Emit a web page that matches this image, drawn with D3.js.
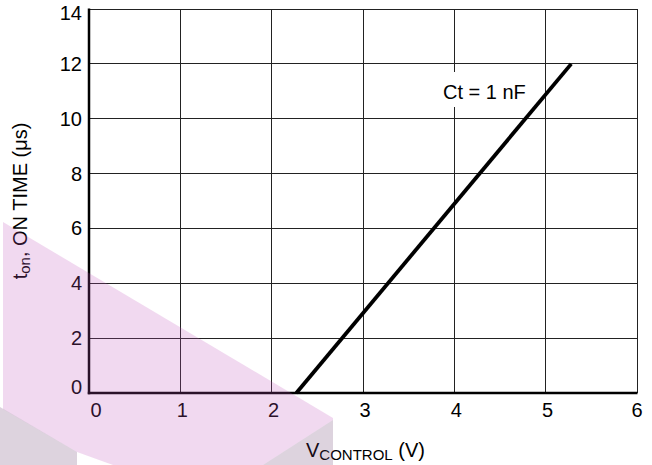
<!DOCTYPE html>
<html>
<head>
<meta charset="utf-8">
<script src="https://cdn.jsdelivr.net/npm/d3@7"></script>
<style>
  html, body { margin: 0; padding: 0; background: #fff; }
  svg { display: block; font-family: "Liberation Sans", Arial, Helvetica, sans-serif; }
</style>
</head>
<body>
<svg id="chart" width="652" height="465"></svg>
<script>
// ---- data ----
const xTicks = [0, 1, 2, 3, 4, 5, 6];
const yTicks = [0, 2, 4, 6, 8, 10, 12, 14];
const vControl = [2.27, 5.28];      // V
const onTime = [0, 12];             // µs
const curveLabel = "Ct = 1 nF";
const xTitleMain = "V", xTitleSub = "CONTROL", xTitleUnit = " (V)";
const yTitleMain = "t", yTitleSub = "on", yTitleRest = ", ON TIME (\u03BCs)";

// ---- layout ----
const svg = d3.select("#chart");
const L = 89, T = 9, R = 637, B = 393;
const x = d3.scaleLinear().domain([0, 6]).range([L, R]);
const y = d3.scaleLinear().domain([0, 14]).range([B, T]);

// grid
const g = svg.append("g");
g.selectAll("line.vx").data(xTicks).join("line")
  .attr("x1", d => x(d)).attr("x2", d => x(d)).attr("y1", T).attr("y2", B)
  .attr("stroke", "#222").attr("stroke-width", 1).attr("shape-rendering", "crispEdges");
g.selectAll("line.hy").data(yTicks).join("line")
  .attr("x1", L).attr("x2", R).attr("y1", d => y(d)).attr("y2", d => y(d))
  .attr("stroke", "#222").attr("stroke-width", 1).attr("shape-rendering", "crispEdges");

// axes (thick left & bottom)
g.append("line").attr("x1", L).attr("x2", L).attr("y1", T - 0.5).attr("y2", B + 1.2)
  .attr("stroke", "#000").attr("stroke-width", 2.5);
g.append("line").attr("x1", L - 1.2).attr("x2", R + 0.5).attr("y1", B).attr("y2", B)
  .attr("stroke", "#000").attr("stroke-width", 2.5);

// tick labels
svg.append("g").selectAll("text").data(yTicks).join("text")
  .attr("x", 82).attr("y", d => y(d) + (d === 14 ? 11 : d === 0 ? 1 : 7))
  .attr("text-anchor", "end").attr("font-size", 20).attr("fill", "#000")
  .text(d => d);
svg.append("g").selectAll("text").data(xTicks).join("text")
  .attr("x", d => x(d) + (d === 0 ? 7 : d === 6 ? 0 : 2)).attr("y", 417)
  .attr("text-anchor", "middle").attr("font-size", 20).attr("fill", "#000")
  .text(d => d);

// curve label with white background
const lbl = svg.append("g");
lbl.append("rect").attr("x", 438).attr("y", 72).attr("width", 96).attr("height", 35).attr("fill", "#fff");
lbl.append("text").attr("x", 443).attr("y", 99).attr("font-size", 20).attr("fill", "#000").text(curveLabel);

// curve
const line = d3.line().x(d => x(d[0])).y(d => y(d[1]));
svg.append("path").datum(vControl.map((v, i) => [v, onTime[i]]))
  .attr("d", line).attr("fill", "none").attr("stroke", "#000").attr("stroke-width", 3.8);

// axis titles
const xt = svg.append("text").attr("x", 306).attr("y", 457).attr("font-size", 20).attr("fill", "#000");
xt.append("tspan").text(xTitleMain);
xt.append("tspan").attr("font-size", 15).attr("dy", 3).text(xTitleSub);
xt.append("tspan").attr("dy", -3).text(xTitleUnit);

const yt = svg.append("text").attr("transform", "translate(27,201) rotate(-90)")
  .attr("text-anchor", "middle").attr("font-size", 20).attr("fill", "#000");
yt.append("tspan").text(yTitleMain);
yt.append("tspan").attr("font-size", 15).attr("dy", 3).text(yTitleSub);
yt.append("tspan").attr("dy", -3).text(yTitleRest);

// decorative translucent overlay shape
const ov = svg.append("g").attr("pointer-events", "none");
ov.append("path")
  .attr("d", "M3,222 L333,418 L333,420 L263,465 L113,465 L77,452 L3,409 Z")
  .attr("fill", "rgb(191,82,186)").attr("fill-opacity", 0.22);
ov.append("path")
  .attr("d", "M0,407 L77,452 L77,465 L0,465 Z")
  .attr("fill", "rgb(100,55,105)").attr("fill-opacity", 0.22);
ov.append("path")
  .attr("d", "M333,420 L333,465 L263,465 Z")
  .attr("fill", "rgb(100,55,105)").attr("fill-opacity", 0.22);
</script>
</body>
</html>
